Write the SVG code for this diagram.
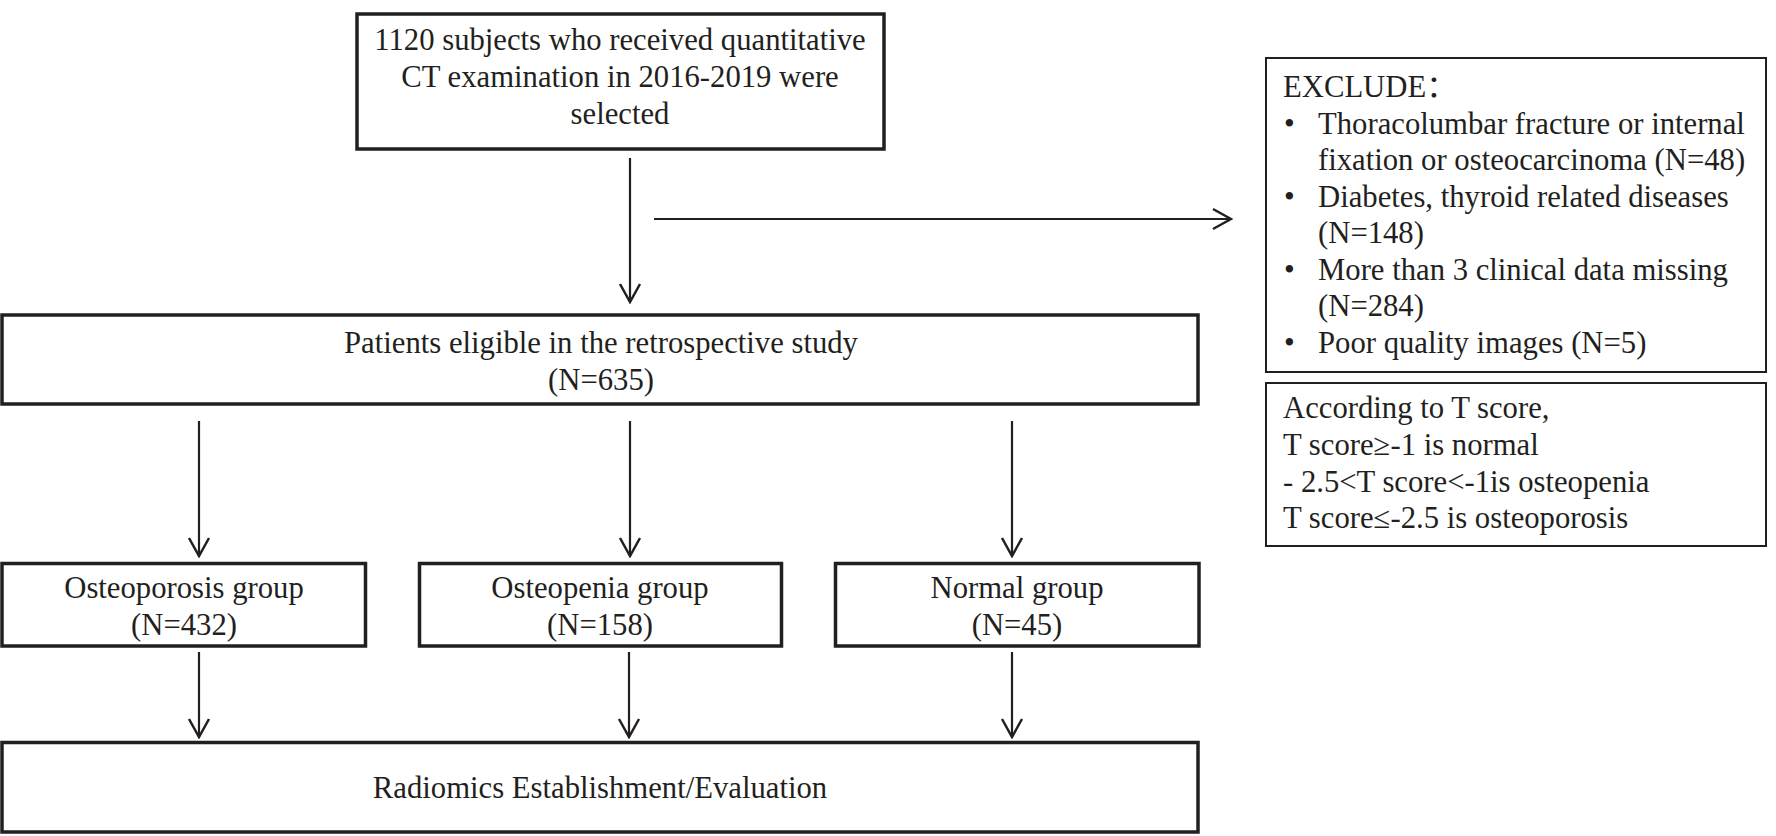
<svg xmlns="http://www.w3.org/2000/svg" width="1776" height="836" viewBox="0 0 1776 836">
<style>
  .box{fill:#fff;stroke:#231f20;stroke-width:3.5}
  .thin{fill:#fff;stroke:#231f20;stroke-width:2}
  .t{font-family:"Liberation Serif","Times New Roman","Noto Sans CJK SC",serif;font-size:30.7px;fill:#231f20}
  .c{text-anchor:middle}
  .conn line{stroke:#231f20;stroke-width:2.2;fill:none}
</style>
<defs>
  <marker id="ah" markerUnits="userSpaceOnUse" markerWidth="24" markerHeight="24" viewBox="-22 -12 24 24" refX="0" refY="0" orient="auto">
    <path d="M-18,-10 L0,0 L-18,10" fill="none" stroke="#231f20" stroke-width="2.5"/>
  </marker>
</defs>
<rect width="1776" height="836" fill="#fff"/>

<g id="n-start">
  <rect class="box" x="357" y="14" width="527" height="135"/>
  <text class="t c" x="620" y="50">1120 subjects who received quantitative</text>
  <text class="t c" x="620" y="87">CT examination in 2016-2019 were</text>
  <text class="t c" x="620" y="124">selected</text>
</g>

<g id="n-exclude">
  <rect class="thin" x="1266" y="58" width="500" height="314"/>
  <text class="t" x="1283" y="97">EXCLUDE：</text>
  <text class="t" x="1284" y="133.5">•</text>
  <text class="t" x="1318" y="133.5">Thoracolumbar fracture or internal</text>
  <text class="t" x="1318" y="170">fixation or osteocarcinoma (N=48)</text>
  <text class="t" x="1284" y="206.5">•</text>
  <text class="t" x="1318" y="206.5">Diabetes, thyroid related diseases</text>
  <text class="t" x="1318" y="243">(N=148)</text>
  <text class="t" x="1284" y="279.5">•</text>
  <text class="t" x="1318" y="279.5">More than 3 clinical data missing</text>
  <text class="t" x="1318" y="316">(N=284)</text>
  <text class="t" x="1284" y="352.5">•</text>
  <text class="t" x="1318" y="352.5">Poor quality images (N=5)</text>
</g>

<g id="n-tscore">
  <rect class="thin" x="1266" y="383" width="500" height="163"/>
  <text class="t" x="1283" y="418">According to T score,</text>
  <text class="t" x="1283" y="455">T score≥-1 is normal</text>
  <text class="t" x="1283" y="491.5">- 2.5&lt;T score&lt;-1is osteopenia</text>
  <text class="t" x="1283" y="528">T score≤-2.5 is osteoporosis</text>
</g>

<g id="n-eligible">
  <rect class="box" x="2" y="315" width="1196" height="89"/>
  <text class="t c" x="601" y="353">Patients eligible in the retrospective study</text>
  <text class="t c" x="601" y="390">(N=635)</text>
</g>

<g id="n-osteoporosis">
  <rect class="box" x="2" y="563.5" width="363.5" height="82.5"/>
  <text class="t c" x="184" y="598">Osteoporosis group</text>
  <text class="t c" x="184" y="635">(N=432)</text>
</g>

<g id="n-osteopenia">
  <rect class="box" x="419.5" y="563.5" width="362" height="82.5"/>
  <text class="t c" x="600" y="598">Osteopenia group</text>
  <text class="t c" x="600" y="635">(N=158)</text>
</g>

<g id="n-normal">
  <rect class="box" x="835.5" y="563.5" width="363.5" height="82.5"/>
  <text class="t c" x="1017" y="598">Normal group</text>
  <text class="t c" x="1017" y="635">(N=45)</text>
</g>

<g id="n-radiomics">
  <rect class="box" x="2" y="742.5" width="1196" height="89.5"/>
  <text class="t c" x="600" y="798">Radiomics Establishment/Evaluation</text>
</g>

<g id="connectors" class="conn">
  <line x1="630" y1="158" x2="630" y2="302" marker-end="url(#ah)"/>
  <line x1="654" y1="219" x2="1231" y2="219" marker-end="url(#ah)"/>
  <line x1="199" y1="421" x2="199" y2="556" marker-end="url(#ah)"/>
  <line x1="630" y1="421" x2="630" y2="556" marker-end="url(#ah)"/>
  <line x1="1012" y1="421" x2="1012" y2="556" marker-end="url(#ah)"/>
  <line x1="199" y1="652" x2="199" y2="737" marker-end="url(#ah)"/>
  <line x1="629" y1="652" x2="629" y2="737" marker-end="url(#ah)"/>
  <line x1="1012" y1="652" x2="1012" y2="737" marker-end="url(#ah)"/>
</g>
</svg>
